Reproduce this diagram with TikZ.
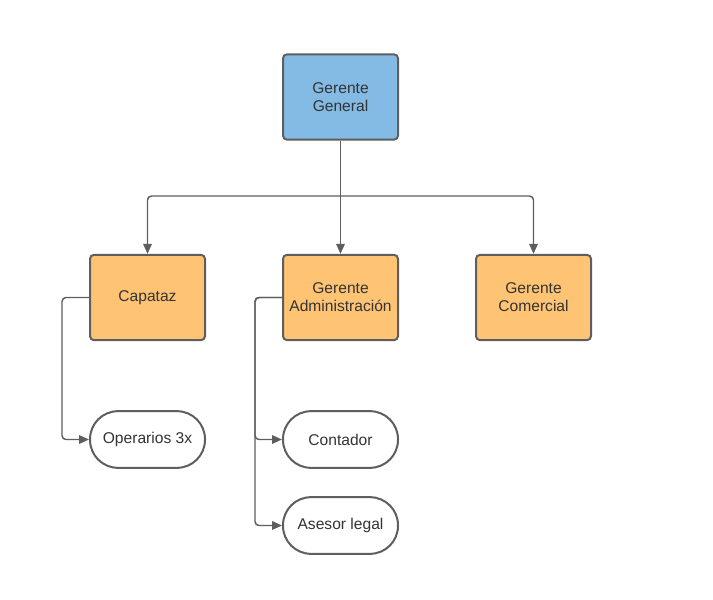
\documentclass[tikz,border=0pt]{standalone}
\usepackage{fontspec}
\setmainfont{Liberation Sans}
\usetikzlibrary{arrows.meta}
\usetikzlibrary{positioning}

\definecolor{boxblue}{HTML}{83BBE5}
\definecolor{boxorange}{HTML}{FFC374}
\definecolor{edgegrey}{HTML}{5E5E5E}
\definecolor{textgrey}{HTML}{333333}

\begin{document}
\begin{tikzpicture}[x=0.75pt,y=-0.75pt,
  box/.style={draw=edgegrey,line width=1.5pt,rounded corners=3pt,minimum width=86.25pt,minimum height=64pt,align=center,text=textgrey,font=\fontsize{11.7}{13.5}\selectfont,inner sep=2pt},
  pill/.style={draw=edgegrey,line width=1.5pt,rounded corners=21pt,minimum width=86.25pt,minimum height=42.5pt,align=center,text=textgrey,font=\fontsize{11.7}{13.5}\selectfont,fill=white},
  conn/.style={draw=edgegrey,line width=1.1pt,rounded corners=3pt},
  arr/.style={conn,-{Triangle[length=7.5pt,width=6.5pt]}}]
  \useasboundingbox (0,0) rectangle (713,599);
  %top
  \node[box,fill=boxblue] (gg) at (340.5,97) {Gerente\\General};
  %middle row
  \node[box,fill=boxorange] (cap) at (147.5,297.5) {Capataz};
  \node[box,fill=boxorange] (adm) at (340.5,297.5) {Gerente\\Administración};
  \node[box,fill=boxorange] (com) at (533.5,297.5) {Gerente\\Comercial};
  %bottom
  \node[pill] (op) at (147.5,439.5) {Operarios 3x};
  \node[pill] (cont) at (340.5,439.5) {Contador};
  \node[pill] (ase) at (340.5,525.5) {Asesor legal};
  %connectors
  \coordinate (bus) at (340.5,196);
  \draw[conn] (gg.south) -- (bus);
  \draw[arr] (bus) -| (cap.north);
  \draw[arr] (bus) -| (com.north);
  \draw[arr] (bus) -- (adm.north);
  \coordinate (capx) at (62,297.5);
  \coordinate (admx) at (255,297.5);
  \draw[arr] (cap.west) -- (capx) |- (op.west);
  \draw[arr] (adm.west) -- (admx) |- (cont.west);
  \draw[arr] (adm.west) -- (admx) |- (ase.west);
\end{tikzpicture}
\end{document}
